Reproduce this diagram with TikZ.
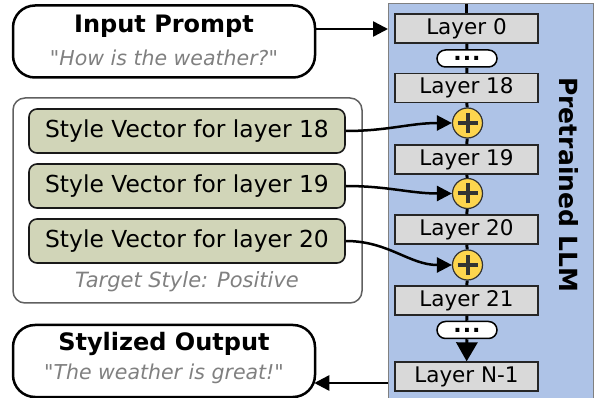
\documentclass[tikz,border=0pt]{standalone}
\usepackage{fontspec}
\setmainfont{DejaVu Sans}
\usetikzlibrary{arrows.meta}
\definecolor{panelblue}{HTML}{AEC3E7}
\definecolor{layergray}{HTML}{D9D9D9}
\definecolor{stylegreen}{HTML}{D1D5B8}
\definecolor{plusyellow}{HTML}{FDD54E}
\definecolor{textgray}{HTML}{808080}
\definecolor{groupgray}{HTML}{606060}
\begin{document}
\begin{tikzpicture}[x=1pt,y=-1pt,
  layerbox/.style={draw=black!85, line width=1.3pt, fill=layergray, minimum width=143pt, minimum height=29pt, inner sep=0pt, font=\fontsize{21.5}{24}\selectfont},
  pill/.style={draw=black, line width=1.5pt, fill=white, rounded corners=8.5pt, minimum width=60pt, minimum height=17pt, inner sep=0pt, font=\bfseries\fontsize{22}{22}\selectfont},
  plusnode/.style={circle, draw=black!80, line width=1.2pt, fill=plusyellow, minimum size=30pt, inner sep=0pt,
    path picture={\draw[line width=4pt] ([xshift=-10pt]path picture bounding box.center) -- ([xshift=10pt]path picture bounding box.center);
                  \draw[line width=4pt] ([yshift=-10pt]path picture bounding box.center) -- ([yshift=10pt]path picture bounding box.center);}},
  svbox/.style={draw=black!90, line width=1.6pt, fill=stylegreen, rounded corners=8pt, minimum width=316pt, minimum height=44pt, inner sep=0pt, font=\fontsize{23.4}{26}\selectfont},
  iobox/.style={draw=black, line width=2.5pt, fill=white, rounded corners=22pt, minimum width=302pt, minimum height=72pt, inner sep=0pt},
  titletext/.style={font=\bfseries\fontsize{24}{28}\selectfont, inner sep=0pt},
  quotetext/.style={font=\itshape\fontsize{20.5}{24}\selectfont, text=textgray, inner sep=0pt},
  spine/.style={line width=3pt, draw=black},
  conn/.style={line width=2.5pt, -{Triangle[length=15pt,width=15pt]}},
]
\useasboundingbox (0,0) rectangle (595,398);

% LLM panel
\node[fill=panelblue, minimum width=205pt, minimum height=400pt, inner sep=0pt, anchor=north west] (llm) at (388,4) {};
\draw[black!50, line width=1pt] (llm.south west) -- (llm.north west) -- (llm.north east) -- (llm.south east);
\node[rotate=-90, font=\bfseries\fontsize{25}{28}\selectfont, inner sep=0pt] (llmlabel) at (569,185) {Pretrained LLM};

% layers
\node[layerbox] (l0) at (466.5,28.5) {Layer 0};
\node[pill] (d1) at (467,58.5) {.\hspace{1pt}.\hspace{1pt}.};
\node[layerbox] (l18) at (466.5,88) {Layer 18};
\node[plusnode] (p1) at (467.5,123) {};
\node[layerbox] (l19) at (466.5,159.5) {Layer 19};
\node[plusnode] (p2) at (467.5,193.5) {};
\node[layerbox] (l20) at (466.5,229.5) {Layer 20};
\node[plusnode] (p3) at (467.5,265) {};
\node[layerbox] (l21) at (466.5,300.5) {Layer 21};
\node[pill] (d2) at (467,330) {.\hspace{1pt}.\hspace{1pt}.};
\node[layerbox] (lN) at (466.5,376.5) {Layer N-1};

\draw[spine] (llm.north -| l0.north) -- (l0);
\draw[spine] (l0) -- (d1);
\draw[spine] (d1) -- (l18);
\draw[spine] (l18) -- (p1);
\draw[spine] (p1) -- (l19);
\draw[spine] (l19) -- (p2);
\draw[spine] (p2) -- (l20);
\draw[spine] (l20) -- (p3);
\draw[spine] (p3) -- (l21);
\draw[spine] (l21) -- (d2);
\draw[spine, -{Triangle[length=19pt,width=21pt]}] (d2) -- (lN);

% input / output
\node[iobox] (inp) at (164,41.5) {};
\node[titletext] (inpt) at (164,26) {Input Prompt};
\node[quotetext] (inpq) at (164,58) {\textquotedbl How is the weather?\textquotedbl};
\node[iobox] (out) at (164,361) {};
\node[titletext] (outt) at (164,344) {Stylized Output};
\node[quotetext] (outq) at (164,374) {\textquotedbl The weather is great!\textquotedbl};

\draw[conn] ([yshift=12.5pt]inp.east) -- ([yshift=12.5pt]inp.east -| llm.west);
\draw[conn] ([yshift=-22pt]out.east -| llm.west) -- ([yshift=-22pt,xshift=-2pt]out.east);

% style group
\node[draw=groupgray, line width=1.5pt, rounded corners=12pt, minimum width=349pt, minimum height=205pt, inner sep=0pt] (grp) at (187.5,200.5) {};
\node[svbox] (sv18) at (187,131) {Style Vector for layer 18};
\node[svbox] (sv19) at (187,186) {Style Vector for layer 19};
\node[svbox] (sv20) at (187,241) {Style Vector for layer 20};
\node[quotetext, font=\itshape\fontsize{21}{24}\selectfont] (tgt) at (187,282) {Target Style: Positive};

\draw[conn] (sv18.east) to[out=0, in=180] (p1.west);
\draw[conn] (sv19.east) to[out=0, in=180] (p2.west);
\draw[conn] (sv20.east) to[out=0, in=180] (p3.west);
\end{tikzpicture}
\end{document}
